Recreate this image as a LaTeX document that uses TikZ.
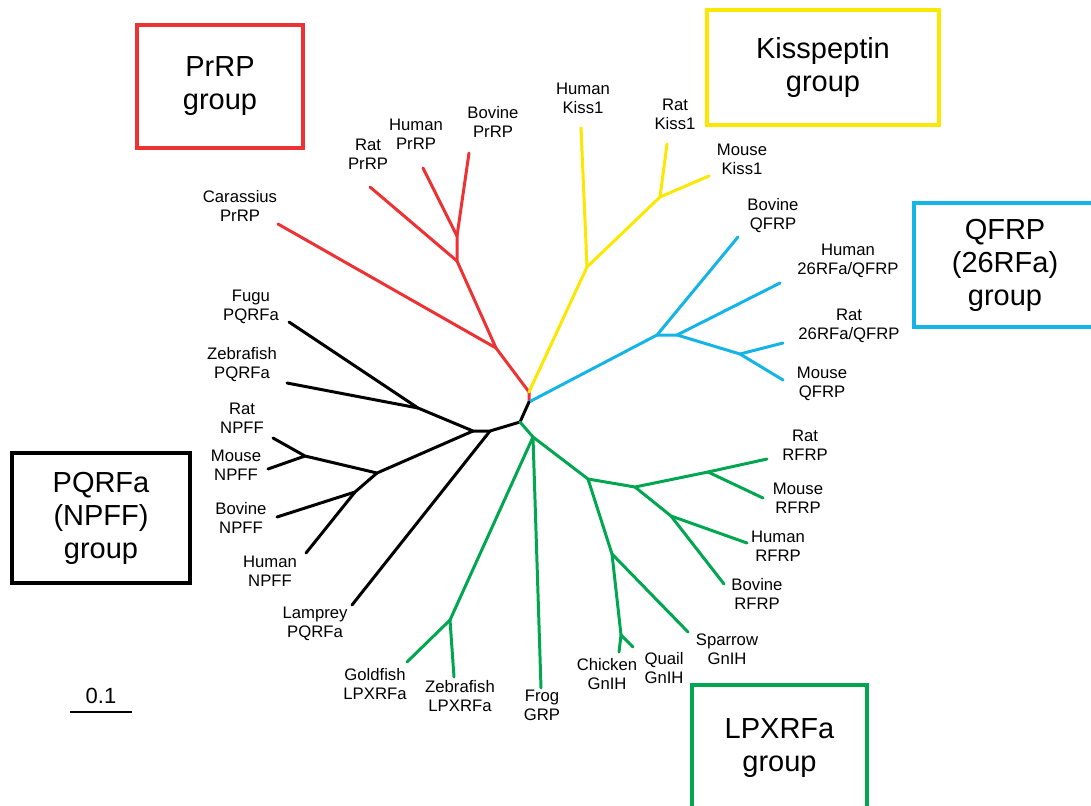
\documentclass[tikz,border=0pt]{standalone}
\usepackage{fontspec}
\setmainfont{Liberation Sans}
\usepackage{tikz}
\usetikzlibrary{positioning}
\definecolor{prrp}{RGB}{238,50,52}
\definecolor{kiss}{RGB}{250,232,0}
\definecolor{qfrp}{RGB}{20,180,230}
\definecolor{lpxrfa}{RGB}{0,166,80}
\tikzset{
  leaf/.style={align=center, inner sep=0pt, font=\fontsize{9.5}{10.8}\selectfont},
  groupbox/.style={draw, line width=2.3pt, align=center, inner sep=0pt, font=\fontsize{16.5}{18.8}\selectfont},
  branch/.style={line width=1.7pt, line cap=round, line join=round}
}
\begin{document}
\begin{tikzpicture}[x=0.02cm, y=-0.02cm]
    \useasboundingbox (0,0) rectangle (1091,805);
    \coordinate (top) at (529,392);
    \coordinate (mid) at (529,402);
    \coordinate (bot) at (520,422);
    % PrRP
    \coordinate (prA) at (457,236);
    \coordinate (prB) at (457,261);
    \coordinate (prC) at (496,348);
    \coordinate (BovinePrRP) at (469,153);
    \coordinate (HumanPrRP) at (423,168);
    \coordinate (RatPrRP) at (370,187);
    \coordinate (CarassiusPrRP) at (278,224);
    \node[leaf] (BovinePrRPlab) at (493,122) {Bovine\\PrRP};
    \node[leaf] (HumanPrRPlab) at (416,134) {Human\\PrRP};
    \node[leaf] (RatPrRPlab) at (368,154) {Rat\\PrRP};
    \node[leaf] (CarassiusPrRPlab) at (240,206) {Carassius\\PrRP};
    \draw[branch, prrp] (mid) -- (top) -- (prC) -- (prB) -- (prA) -- (BovinePrRP);
    \draw[branch, prrp] (prA) -- (HumanPrRP);
    \draw[branch, prrp] (prB) -- (RatPrRP);
    \draw[branch, prrp] (prC) -- (CarassiusPrRP);
    % Kisspeptin
    \coordinate (kA) at (587,267);
    \coordinate (kB) at (660,197);
    \coordinate (HumanKiss) at (581,128);
    \coordinate (RatKiss) at (667,144);
    \coordinate (MouseKiss) at (709,176);
    \node[leaf] (HumanKisslab) at (583,98) {Human\\Kiss1};
    \node[leaf] (RatKisslab) at (675,114) {Rat\\Kiss1};
    \node[leaf] (MouseKisslab) at (742,159) {Mouse\\Kiss1};
    \draw[branch, kiss] (top) -- (kA) -- (HumanKiss);
    \draw[branch, kiss] (kA) -- (kB) -- (RatKiss);
    \draw[branch, kiss] (kB) -- (MouseKiss);
    % QFRP
    \coordinate (qA) at (657,335);
    \coordinate (qB) at (677,335);
    \coordinate (qC) at (740,354);
    \coordinate (BovineQFRP) at (738,237);
    \coordinate (HumanQFRP) at (780,283);
    \coordinate (RatQFRP) at (783,343);
    \coordinate (MouseQFRP) at (783,380);
    \node[leaf] (BovineQFRPlab) at (773,216) {Bovine\\QFRP};
    \node[leaf] (HumanQFRPlab) at (848,261) {Human\\26RFa/QFRP};
    \node[leaf] (RatQFRPlab) at (849,326) {Rat\\26RFa/QFRP};
    \node[leaf] (MouseQFRPlab) at (822,384) {Mouse\\QFRP};
    \draw[branch, qfrp] (mid) -- (qA) -- (BovineQFRP);
    \draw[branch, qfrp] (qA) -- (qB) -- (HumanQFRP);
    \draw[branch, qfrp] (qB) -- (qC) -- (RatQFRP);
    \draw[branch, qfrp] (qC) -- (MouseQFRP);
    % PQRFa
    \coordinate (pqA) at (473,431);
    \coordinate (pqB) at (490,431);
    \coordinate (pqF) at (418,408);
    \coordinate (npA) at (377,473);
    \coordinate (npR) at (305,456);
    \coordinate (npB) at (355,492);
    \coordinate (FuguPQRFa) at (289,322);
    \coordinate (ZebrafishPQRFa) at (287,383);
    \coordinate (RatNPFF) at (273,438);
    \coordinate (MouseNPFF) at (268,469);
    \coordinate (BovineNPFF) at (277,517);
    \coordinate (HumanNPFF) at (306,553);
    \coordinate (LampreyPQRFa) at (352,605);
    \node[leaf] (FuguPQRFalab) at (251,307) {Fugu\\PQRFa};
    \node[leaf] (ZebrafishPQRFalab) at (242,365) {Zebrafish\\PQRFa};
    \node[leaf] (RatNPFFlab) at (242,418) {Rat\\NPFF};
    \node[leaf] (MouseNPFFlab) at (236,465) {Mouse\\NPFF};
    \node[leaf] (BovineNPFFlab) at (241,518) {Bovine\\NPFF};
    \node[leaf] (HumanNPFFlab) at (270,571) {Human\\NPFF};
    \node[leaf] (LampreyPQRFalab) at (315,624) {Lamprey\\PQRFa};
    \draw[branch] (mid) -- (bot) -- (pqB) -- (pqA) -- (pqF) -- (FuguPQRFa);
    \draw[branch] (pqF) -- (ZebrafishPQRFa);
    \draw[branch] (pqA) -- (npA) -- (npR) -- (RatNPFF);
    \draw[branch] (npR) -- (MouseNPFF);
    \draw[branch] (npA) -- (npB) -- (BovineNPFF);
    \draw[branch] (npB) -- (HumanNPFF);
    \draw[branch] (pqB) -- (LampreyPQRFa);
    % LPXRFa
    \coordinate (lpA) at (533,437);
    \coordinate (lpG) at (450,620);
    \coordinate (rfB) at (588,479);
    \coordinate (rfC) at (635,487);
    \coordinate (rfD) at (708,472);
    \coordinate (rfE) at (671,516);
    \coordinate (gnF) at (612,554);
    \coordinate (gnG) at (621,635);
    \coordinate (GoldfishLPXRFa) at (407,662);
    \coordinate (ZebrafishLPXRFa) at (454,677);
    \coordinate (FrogGRP) at (541,688);
    \coordinate (RatRFRP) at (767,459);
    \coordinate (MouseRFRP) at (763,498);
    \coordinate (HumanRFRP) at (747,543);
    \coordinate (BovineRFRP) at (724,584);
    \coordinate (SparrowGnIH) at (688,632);
    \coordinate (QuailGnIH) at (633,647);
    \coordinate (ChickenGnIH) at (619,652);
    \node[leaf] (GoldfishLPXRFalab) at (375,684) {Goldfish\\LPXRFa};
    \node[leaf] (ZebrafishLPXRFalab) at (460,696) {Zebrafish\\LPXRFa};
    \node[leaf] (FrogGRPlab) at (542,705) {Frog\\GRP};
    \node[leaf] (RatRFRPlab) at (805,445) {Rat\\RFRP};
    \node[leaf] (MouseRFRPlab) at (798,498) {Mouse\\RFRP};
    \node[leaf] (HumanRFRPlab) at (778,546) {Human\\RFRP};
    \node[leaf] (BovineRFRPlab) at (757,594) {Bovine\\RFRP};
    \node[leaf] (SparrowGnIHlab) at (727,649) {Sparrow\\GnIH};
    \node[leaf] (QuailGnIHlab) at (664,668) {Quail\\GnIH};
    \node[leaf] (ChickenGnIHlab) at (607,674) {Chicken\\GnIH};
    \draw[branch, lpxrfa] (bot) -- (lpA) -- (lpG) -- (GoldfishLPXRFa);
    \draw[branch, lpxrfa] (lpG) -- (ZebrafishLPXRFa);
    \draw[branch, lpxrfa] (lpA) -- (FrogGRP);
    \draw[branch, lpxrfa] (lpA) -- (rfB) -- (rfC) -- (rfD) -- (RatRFRP);
    \draw[branch, lpxrfa] (rfD) -- (MouseRFRP);
    \draw[branch, lpxrfa] (rfC) -- (rfE) -- (HumanRFRP);
    \draw[branch, lpxrfa] (rfE) -- (BovineRFRP);
    \draw[branch, lpxrfa] (rfB) -- (gnF) -- (SparrowGnIH);
    \draw[branch, lpxrfa] (gnF) -- (gnG) -- (ChickenGnIH);
    \draw[branch, lpxrfa] (gnG) -- (QuailGnIH);
    % group boxes
    \node[groupbox, draw=prrp, minimum width=3.32cm, minimum height=2.46cm] (PrRPbox) at (220,86.5) {PrRP\\group};
    \node[groupbox, draw=kiss, minimum width=4.64cm, minimum height=2.3cm] (Kissbox) at (823,67.5) {Kisspeptin\\group};
    \node[groupbox, draw=qfrp, minimum width=3.64cm, minimum height=2.48cm] (QFRPbox) at (1005,265) {QFRP\\(26RFa)\\group};
    \node[groupbox, minimum width=3.56cm, minimum height=2.6cm] (PQRFabox) at (101,518) {PQRFa\\(NPFF)\\group};
    \node[groupbox, draw=lpxrfa, minimum width=3.5cm, minimum height=2.52cm] (LPXRFabox) at (779.5,748) {LPXRFa\\group};
    % scale bar
    \coordinate (barL) at (70,712);
    \coordinate (barR) at (132,712);
    \draw[line width=1.1pt] (barL) -- (barR) node[midway, above=1pt, font=\fontsize{12.5}{14}\selectfont] (barlab) {0.1};
\end{tikzpicture}
\end{document}
